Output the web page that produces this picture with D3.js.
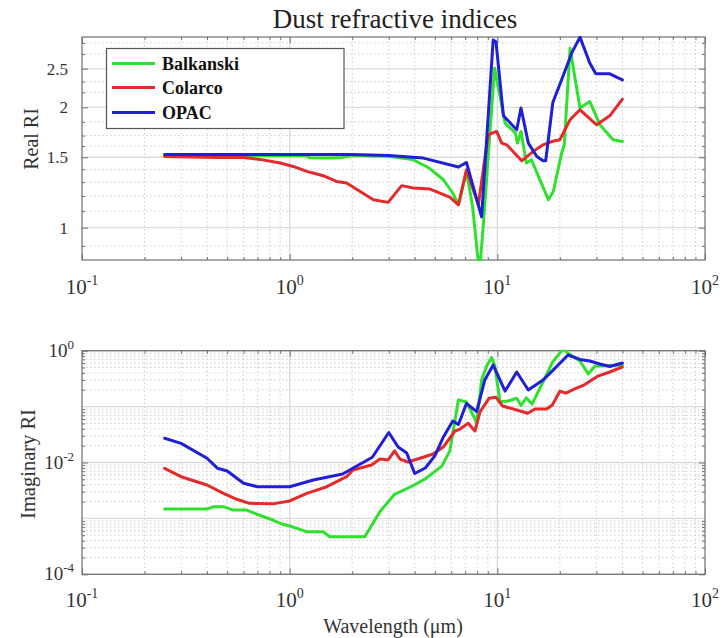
<!DOCTYPE html>
<html>
<head>
<meta charset="utf-8">
<script src="https://cdn.jsdelivr.net/npm/d3@7"></script>
<style>
  html, body { margin: 0; padding: 0; background: #ffffff; }
  svg { display: block; }
</style>
</head>
<body>
<div id="chart"></div>
<script>
// ---------- data ----------
const seriesNames = ["Balkanski", "Colarco", "OPAC"];
const seriesColors = ["#2fe02f", "#e42a2a", "#1f1fd8"];

// Real part
const balkanskiRealWl = [0.25, 0.4, 0.7, 1.0, 1.2, 1.25, 1.5, 1.75, 2.0, 3.0, 3.9, 4.7, 5.5, 6.1, 6.5, 7.1, 7.6, 8.2, 8.55, 9.7, 10.9, 12.2, 12.5, 13.0, 13.8, 14.6, 17.6, 18.6, 20.4, 21.0, 22.4, 25.0, 27.9, 31.2, 36.1, 40];
const balkanskiReal   = [1.516, 1.516, 1.516, 1.516, 1.516, 1.495, 1.493, 1.495, 1.515, 1.508, 1.482, 1.41, 1.318, 1.221, 1.141, 1.383, 1.13, 0.77, 1.0075, 2.507, 1.827, 1.725, 1.628, 1.741, 1.451, 1.479, 1.175, 1.232, 1.537, 1.612, 2.812, 1.992, 2.068, 1.809, 1.66, 1.643];

const colarcoRealWl = [0.25, 0.45, 0.6, 0.72, 0.9, 1.04, 1.21, 1.45, 1.68, 1.88, 2.53, 2.98, 3.46, 3.94, 4.74, 5.9, 6.5, 7.1, 8.1, 9.04, 9.92, 10.5, 11.1, 13.1, 14.9, 16.6, 18.3, 20.0, 22.4, 25.0, 30.1, 34.8, 40];
const colarcoReal   = [1.507, 1.499, 1.499, 1.482, 1.451, 1.423, 1.383, 1.349, 1.305, 1.293, 1.175, 1.157, 1.274, 1.257, 1.249, 1.193, 1.141, 1.396, 1.141, 1.708, 1.741, 1.628, 1.612, 1.47, 1.552, 1.612, 1.643, 1.66, 1.862, 1.972, 1.809, 1.905, 2.097];

const opacRealWl = [0.25, 1.0, 2.0, 3.0, 4.4, 6.5, 7.1, 8.4, 9.55, 9.85, 10.7, 12.4, 13.0, 14.1, 15.5, 16.6, 17.1, 18.5, 20.4, 22.8, 25.0, 27.9, 29.8, 34.8, 40];
const opacReal   = [1.525, 1.525, 1.525, 1.515, 1.493, 1.418, 1.456, 1.064, 2.95, 2.92, 1.905, 1.758, 1.992, 1.628, 1.507, 1.47, 1.47, 2.056, 2.344, 2.733, 2.998, 2.58, 2.427, 2.427, 2.344];

// Imaginary part
const balkanskiImagWl = [0.25, 0.4, 0.43, 0.48, 0.535, 0.62, 0.69, 0.83, 0.915, 1.0, 1.12, 1.21, 1.45, 1.56, 2.3, 2.72, 3.2, 3.9, 4.5, 5.4, 5.9, 6.5, 7.1, 7.63, 7.95, 8.4, 8.88, 9.39, 9.73, 10.3, 11.3, 12.4, 13.0, 13.8, 14.7, 16.5, 18.4, 20.0, 20.9, 21.9, 25.0, 27.4, 29.5, 33.6, 40];
const balkanskiImag   = [0.00147, 0.00147, 0.00162, 0.00162, 0.00141, 0.00141, 0.0012, 0.000935, 0.000794, 0.000731, 0.000638, 0.000578, 0.000578, 0.000471, 0.000471, 0.00132, 0.0027, 0.0038, 0.0051, 0.0086, 0.016, 0.132, 0.121, 0.0708, 0.0509, 0.299, 0.532, 0.755, 0.532, 0.122, 0.126, 0.141, 0.105, 0.143, 0.111, 0.264, 0.615, 0.91, 1.07, 0.899, 0.655, 0.383, 0.532, 0.539, 0.554];

const colarcoImagWl = [0.25, 0.3, 0.4, 0.48, 0.556, 0.64, 0.83, 1.0, 1.21, 1.51, 1.88, 2.02, 2.48, 2.72, 2.98, 3.2, 3.4, 3.71, 4.24, 4.91, 5.49, 6.25, 6.61, 7.24, 7.8, 8.25, 9.11, 9.85, 10.6, 12.4, 14.0, 15.2, 17.3, 18.4, 20.0, 21.4, 23.6, 26.4, 30.5, 34.8, 40];
const colarcoImag   = [0.00787, 0.00557, 0.00396, 0.00281, 0.0022, 0.00186, 0.00182, 0.00205, 0.00281, 0.00369, 0.00557, 0.00735, 0.00902, 0.01155, 0.0111, 0.0161, 0.0115, 0.0102, 0.0119, 0.0142, 0.0189, 0.0366, 0.0397, 0.0502, 0.0366, 0.08, 0.1406, 0.1466, 0.1026, 0.0869, 0.0759, 0.0906, 0.0906, 0.107, 0.188, 0.175, 0.207, 0.248, 0.352, 0.416, 0.511];

const opacImagWl = [0.25, 0.3, 0.4, 0.45, 0.5, 0.6, 0.7, 1.0, 1.3, 1.8, 2.5, 3.0, 3.33, 3.66, 4.0, 4.5, 5.0, 5.5, 6.1, 6.5, 7.1, 7.95, 8.7, 9.55, 10.9, 12.4, 14.1, 16.6, 17.9, 21.9, 25.0, 27.9, 31.2, 34.8, 40];
const opacImag   = [0.0271, 0.022, 0.0119, 0.00787, 0.00705, 0.00425, 0.00369, 0.00369, 0.00486, 0.00622, 0.0124, 0.0344, 0.0189, 0.0148, 0.00635, 0.00798, 0.0131, 0.0286, 0.0552, 0.0479, 0.1136, 0.0811, 0.299, 0.554, 0.19, 0.416, 0.198, 0.299, 0.394, 0.837, 0.697, 0.655, 0.578, 0.521, 0.603];

// Axis ticks
const xTickExps = [-1, 0, 1, 2];
const realTicks = [1, 1.5, 2, 2.5];
const realMinor = [0.9, 1.1, 1.2, 1.3, 1.4, 1.6, 1.7, 1.84, 2.18, 2.32, 2.72, 2.9];
const imagTickExps = [0, -2, -4];

const titleText = "Dust refractive indices";
const xLabel = "Wavelength (\u03bcm)";
const realLabel = "Real RI";
const imagLabel = "Imaginary RI";

// ---------- drawing ----------
const W = 723, H = 638;
const svg = d3.select("#chart").append("svg").attr("width", W).attr("height", H);
const serif = "'Liberation Serif', 'Times New Roman', serif";

const x = d3.scaleLog().domain([0.1, 100]).range([82, 705]);
const yR = d3.scaleLog().domain([0.83, 3.0]).range([260, 37]);
const yI = d3.scaleLog().domain([1e-4, 1]).range([574.3, 350.7]);

const xMinor = [];
[0.1, 1, 10].forEach(d => { for (let k = 2; k <= 9; k++) xMinor.push(d * k); });
const iMinor = [];
[1e-4, 1e-3, 1e-2, 1e-1].forEach(d => { for (let k = 2; k <= 9; k++) iMinor.push(d * k); });
const iMajorGrid = [1e-4, 1e-3, 1e-2, 1e-1, 1];

function panel(y, yMajorGrid, yMinorGrid, yTickVals, id) {
  const x0 = x.range()[0], x1 = x.range()[1];
  const yb = y.range()[0], yt = y.range()[1];
  const g = svg.append("g");
  // minor grid
  g.selectAll(".vmin").data(xMinor).join("line")
    .attr("x1", d => x(d)).attr("x2", d => x(d)).attr("y1", yt).attr("y2", yb)
    .attr("stroke", "#cccccc").attr("stroke-width", 1).attr("stroke-dasharray", "1.5,2.5");
  g.selectAll(".hmin").data(yMinorGrid).join("line")
    .attr("x1", x0).attr("x2", x1).attr("y1", d => y(d)).attr("y2", d => y(d))
    .attr("stroke", "#cccccc").attr("stroke-width", 1).attr("stroke-dasharray", "1.5,2.5");
  // major grid
  g.selectAll(".vmaj").data([1, 10]).join("line")
    .attr("x1", d => x(d)).attr("x2", d => x(d)).attr("y1", yt).attr("y2", yb)
    .attr("stroke", "#dcdcdc").attr("stroke-width", 1.4);
  g.selectAll(".hmaj").data(yMajorGrid).join("line")
    .attr("x1", x0).attr("x2", x1).attr("y1", d => y(d)).attr("y2", d => y(d))
    .attr("stroke", "#dcdcdc").attr("stroke-width", 1.4);

  // axes with inward ticks (D3 axis generators)
  const tickStyle = sel => { sel.select(".domain").remove(); sel.selectAll("line").attr("stroke", "#707070"); sel.selectAll("text").remove(); };
  const xMaj = xTickExps.map(e => Math.pow(10, e));
  g.append("g").attr("transform", `translate(0,${yb})`).call(d3.axisTop(x).tickValues(xMaj).tickSize(6)).call(tickStyle);
  g.append("g").attr("transform", `translate(0,${yb})`).call(d3.axisTop(x).tickValues(xMinor).tickSize(3)).call(tickStyle);
  g.append("g").attr("transform", `translate(0,${yt})`).call(d3.axisBottom(x).tickValues(xMaj).tickSize(6)).call(tickStyle);
  g.append("g").attr("transform", `translate(0,${yt})`).call(d3.axisBottom(x).tickValues(xMinor).tickSize(3)).call(tickStyle);
  g.append("g").attr("transform", `translate(${x0},0)`).call(d3.axisRight(y).tickValues(yTickVals).tickSize(6)).call(tickStyle);
  g.append("g").attr("transform", `translate(${x0},0)`).call(d3.axisRight(y).tickValues(yMinorGrid).tickSize(3)).call(tickStyle);
  g.append("g").attr("transform", `translate(${x1},0)`).call(d3.axisLeft(y).tickValues(yTickVals).tickSize(6)).call(tickStyle);
  g.append("g").attr("transform", `translate(${x1},0)`).call(d3.axisLeft(y).tickValues(yMinorGrid).tickSize(3)).call(tickStyle);

  // clip
  svg.append("clipPath").attr("id", id).append("rect")
    .attr("x", x0).attr("y", yt - 1).attr("width", x1 - x0).attr("height", yb - yt + 2);

  // box
  g.append("rect").attr("x", x0).attr("y", yt).attr("width", x1 - x0).attr("height", yb - yt)
    .attr("fill", "none").attr("stroke", "#6f6f6f").attr("stroke-width", 1.2);
  return g;
}

function drawLines(y, sets, clipId) {
  const line = d3.line().x(d => x(d[0])).y(d => y(d[1]));
  const g = svg.append("g").attr("clip-path", `url(#${clipId})`);
  sets.forEach((s, i) => {
    const pts = s[0].map((w, k) => [w, s[1][k]]);
    g.append("path").attr("d", line(pts)).attr("fill", "none")
      .attr("stroke", seriesColors[i]).attr("stroke-width", 3)
      .attr("stroke-linejoin", "round").attr("stroke-linecap", "round");
  });
}

function xTickLabels(baseline) {
  const g = svg.append("g").attr("font-family", serif).attr("fill", "#333");
  xTickExps.forEach(e => {
    const t = g.append("text").attr("x", x(Math.pow(10, e))).attr("y", baseline)
      .attr("text-anchor", "middle").attr("font-size", 21);
    t.append("tspan").text("10");
    t.append("tspan").attr("dy", -9).attr("font-size", 14).text(String(e));
  });
}

// ---- top panel ----
panel(yR, realTicks, realMinor, realTicks, "clipTop");
drawLines(yR, [[balkanskiRealWl, balkanskiReal], [colarcoRealWl, colarcoReal], [opacRealWl, opacReal]], "clipTop");
svg.append("g").attr("font-family", serif).attr("fill", "#333").attr("font-size", 17)
  .selectAll("text").data(realTicks).join("text")
  .attr("x", 68).attr("y", d => yR(d) + 6).attr("text-anchor", "end").text(d => String(d));
xTickLabels(294);

// ---- bottom panel ----
panel(yI, iMajorGrid, iMinor, imagTickExps.map(e => Math.pow(10, e)), "clipBot");
drawLines(yI, [[balkanskiImagWl, balkanskiImag], [colarcoImagWl, colarcoImag], [opacImagWl, opacImag]], "clipBot");
{
  const g = svg.append("g").attr("font-family", serif).attr("fill", "#333");
  imagTickExps.forEach(e => {
    const t = g.append("text").attr("x", 74).attr("y", yI(Math.pow(10, e)) + 6)
      .attr("text-anchor", "end").attr("font-size", 19);
    t.append("tspan").text("10");
    t.append("tspan").attr("dy", -8).attr("font-size", 13).text(String(e));
  });
}
xTickLabels(607);

// ---- texts ----
svg.append("text").attr("x", 395).attr("y", 28).attr("text-anchor", "middle")
  .attr("font-family", serif).attr("font-size", 27).attr("fill", "#222").text(titleText);
svg.append("text").attr("x", 393).attr("y", 633).attr("text-anchor", "middle")
  .attr("font-family", serif).attr("font-size", 20).attr("fill", "#333").text(xLabel);
svg.append("text").attr("transform", "translate(38,139) rotate(-90)").attr("text-anchor", "middle")
  .attr("font-family", serif).attr("font-size", 20).attr("fill", "#333").text(realLabel);
svg.append("text").attr("transform", "translate(35,464) rotate(-90)").attr("text-anchor", "middle")
  .attr("font-family", serif).attr("font-size", 20.5).attr("fill", "#333").text(imagLabel);

// ---- legend ----
{
  const lg = svg.append("g");
  lg.append("rect").attr("x", 106.5).attr("y", 48.5).attr("width", 237.5).attr("height", 80)
    .attr("fill", "#fff").attr("stroke", "#555").attr("stroke-width", 1.2);
  const ys = [63.5, 87.5, 112.5];
  seriesNames.forEach((n, i) => {
    lg.append("line").attr("x1", 112).attr("x2", 155).attr("y1", ys[i]).attr("y2", ys[i])
      .attr("stroke", seriesColors[i]).attr("stroke-width", 3);
    lg.append("text").attr("x", 162).attr("y", ys[i] + 6).attr("font-family", serif)
      .attr("font-weight", "bold").attr("font-size", 18).attr("fill", "#111").text(n);
  });
}
</script>
</body>
</html>
